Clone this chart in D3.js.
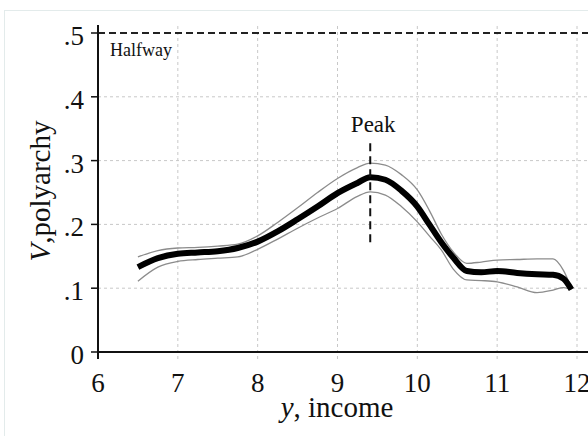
<!DOCTYPE html>
<html>
<head>
<meta charset="utf-8">
<script src="https://cdn.jsdelivr.net/npm/d3@7"></script>
<style>
  body { margin: 0; background: #fff; }
  svg text { font-family: "Liberation Serif", "Times New Roman", serif; fill: #111; }
</style>
</head>
<body>
<svg id="chart" width="588" height="436"></svg>
<script>
// income grid (x) and the smoothed estimate with its band
const income = [6.5, 6.75, 7, 7.25, 7.5, 7.75, 8, 8.25, 8.5, 8.75, 9, 9.25, 9.41, 9.6, 9.8,
                10, 10.15, 10.3, 10.45, 10.62, 10.8, 11, 11.25, 11.5, 11.7, 11.83, 11.93];
const estimate = [.133, .147, .154, .156, .158, .163, .173, .189, .208, .228, .249, .265, .274, .270, .253,
                  .228, .200, .172, .148, .127, .125, .127, .124, .122, .121, .115, .098];
const upper = [.149, .159, .163, .164, .166, .169, .182, .203, .226, .250, .272, .289, .296, .293, .278,
               .254, .222, .185, .157, .139, .141, .144, .145, .146, .146, .128, .100];
const lower = [.111, .133, .142, .145, .147, .149, .161, .177, .194, .210, .225, .244, .251, .246, .228,
               .204, .182, .160, .130, .113, .112, .110, .102, .093, .097, .101, .098];

const xTicks = [6, 7, 8, 9, 10, 11, 12];
const yTicks = [0, .1, .2, .3, .4, .5];
const yTickLabels = ["0", ".1", ".2", ".3", ".4", ".5"];
const halfway = 0.5;
const peakX = 9.41;
const peakSpan = [0.172, 0.328];

const svg = d3.select("#chart");

let x = d3.scaleLinear().domain([6, 12]).range([98, 577]);
let y = d3.scaleLinear().domain([0, 0.5]).range([352, 33]);
const plotTop = 25;

// faint outer frame
svg.append("rect")
    .attr("x", 4.5).attr("y", 10.5)
    .attr("width", 620).attr("height", 460)
    .attr("fill", "none")
    .attr("stroke", "#e3ebeb");

// grid
svg.append("g").selectAll("line")
    .data(xTicks.slice(1))
    .enter().append("line")
    .attr("x1", d => x(d)).attr("x2", d => x(d))
    .attr("y1", y(0) + 7).attr("y2", plotTop)
    .attr("stroke", "#c8c8c8")
    .attr("stroke-dasharray", "3,3");

svg.append("g").selectAll("line")
    .data(yTicks.slice(1, 5))
    .enter().append("line")
    .attr("x1", x(6) - 6).attr("x2", 600)
    .attr("y1", d => y(d)).attr("y2", d => y(d))
    .attr("stroke", "#c8c8c8")
    .attr("stroke-dasharray", "3,3");

// halfway reference
svg.append("line")
    .attr("x1", x(6)).attr("x2", 600)
    .attr("y1", y(halfway)).attr("y2", y(halfway))
    .attr("stroke", "#222")
    .attr("stroke-width", 2)
    .attr("stroke-dasharray", "7,4");

svg.append("text")
    .attr("x", 110).attr("y", 56)
    .attr("font-size", 18)
    .text("Halfway");

// axes
svg.append("line")
    .attr("x1", x(6)).attr("x2", 600)
    .attr("y1", y(0)).attr("y2", y(0))
    .attr("stroke", "#111").attr("stroke-width", 2);
svg.append("line")
    .attr("x1", x(6)).attr("x2", x(6))
    .attr("y1", y(0) + 7).attr("y2", plotTop)
    .attr("stroke", "#111").attr("stroke-width", 2);

svg.append("g").selectAll("line")
    .data(yTicks)
    .enter().append("line")
    .attr("x1", x(6) - 7).attr("x2", x(6))
    .attr("y1", d => y(d)).attr("y2", d => y(d))
    .attr("stroke", "#111").attr("stroke-width", 1.5);

svg.append("g").selectAll("text")
    .data(yTicks)
    .enter().append("text")
    .attr("x", 84)
    .attr("y", d => y(d) + 12)
    .attr("text-anchor", "end")
    .attr("font-size", 27)
    .text((d, i) => yTickLabels[i]);

svg.append("g").selectAll("text")
    .data(xTicks)
    .enter().append("text")
    .attr("x", d => x(d))
    .attr("y", 392)
    .attr("text-anchor", "middle")
    .attr("font-size", 27)
    .text(d => d);

// axis titles
let xt = svg.append("text")
    .attr("x", 337).attr("y", 417)
    .attr("text-anchor", "middle")
    .attr("font-size", 29);
xt.append("tspan").attr("font-style", "italic").text("y");
xt.append("tspan").text(", income");

let yt = svg.append("text")
    .attr("transform", "translate(50,191) rotate(-90)")
    .attr("text-anchor", "middle")
    .attr("font-size", 29);
yt.append("tspan").attr("font-style", "italic").text("V");
yt.append("tspan").text(",polyarchy");

// curves
const pts = arr => income.map((v, i) => [v, arr[i]]);
const line = d3.line()
    .x(d => x(d[0]))
    .y(d => y(d[1]))
    .curve(d3.curveMonotoneX);

[upper, lower].forEach(band => {
  svg.append("path")
      .attr("d", line(pts(band)))
      .attr("fill", "none")
      .attr("stroke", "#8c8c8c")
      .attr("stroke-width", 1.3);
});

svg.append("path")
    .attr("d", line(pts(estimate)))
    .attr("fill", "none")
    .attr("stroke", "#000")
    .attr("stroke-width", 6)
    .attr("stroke-linejoin", "round");

// peak marker
svg.append("line")
    .attr("x1", x(peakX)).attr("x2", x(peakX))
    .attr("y1", y(peakSpan[0])).attr("y2", y(peakSpan[1]))
    .attr("stroke", "#111")
    .attr("stroke-width", 2)
    .attr("stroke-dasharray", "8,5");

svg.append("text")
    .attr("x", x(peakX) + 3).attr("y", 132)
    .attr("text-anchor", "middle")
    .attr("font-size", 23)
    .text("Peak");
</script>
</body>
</html>
